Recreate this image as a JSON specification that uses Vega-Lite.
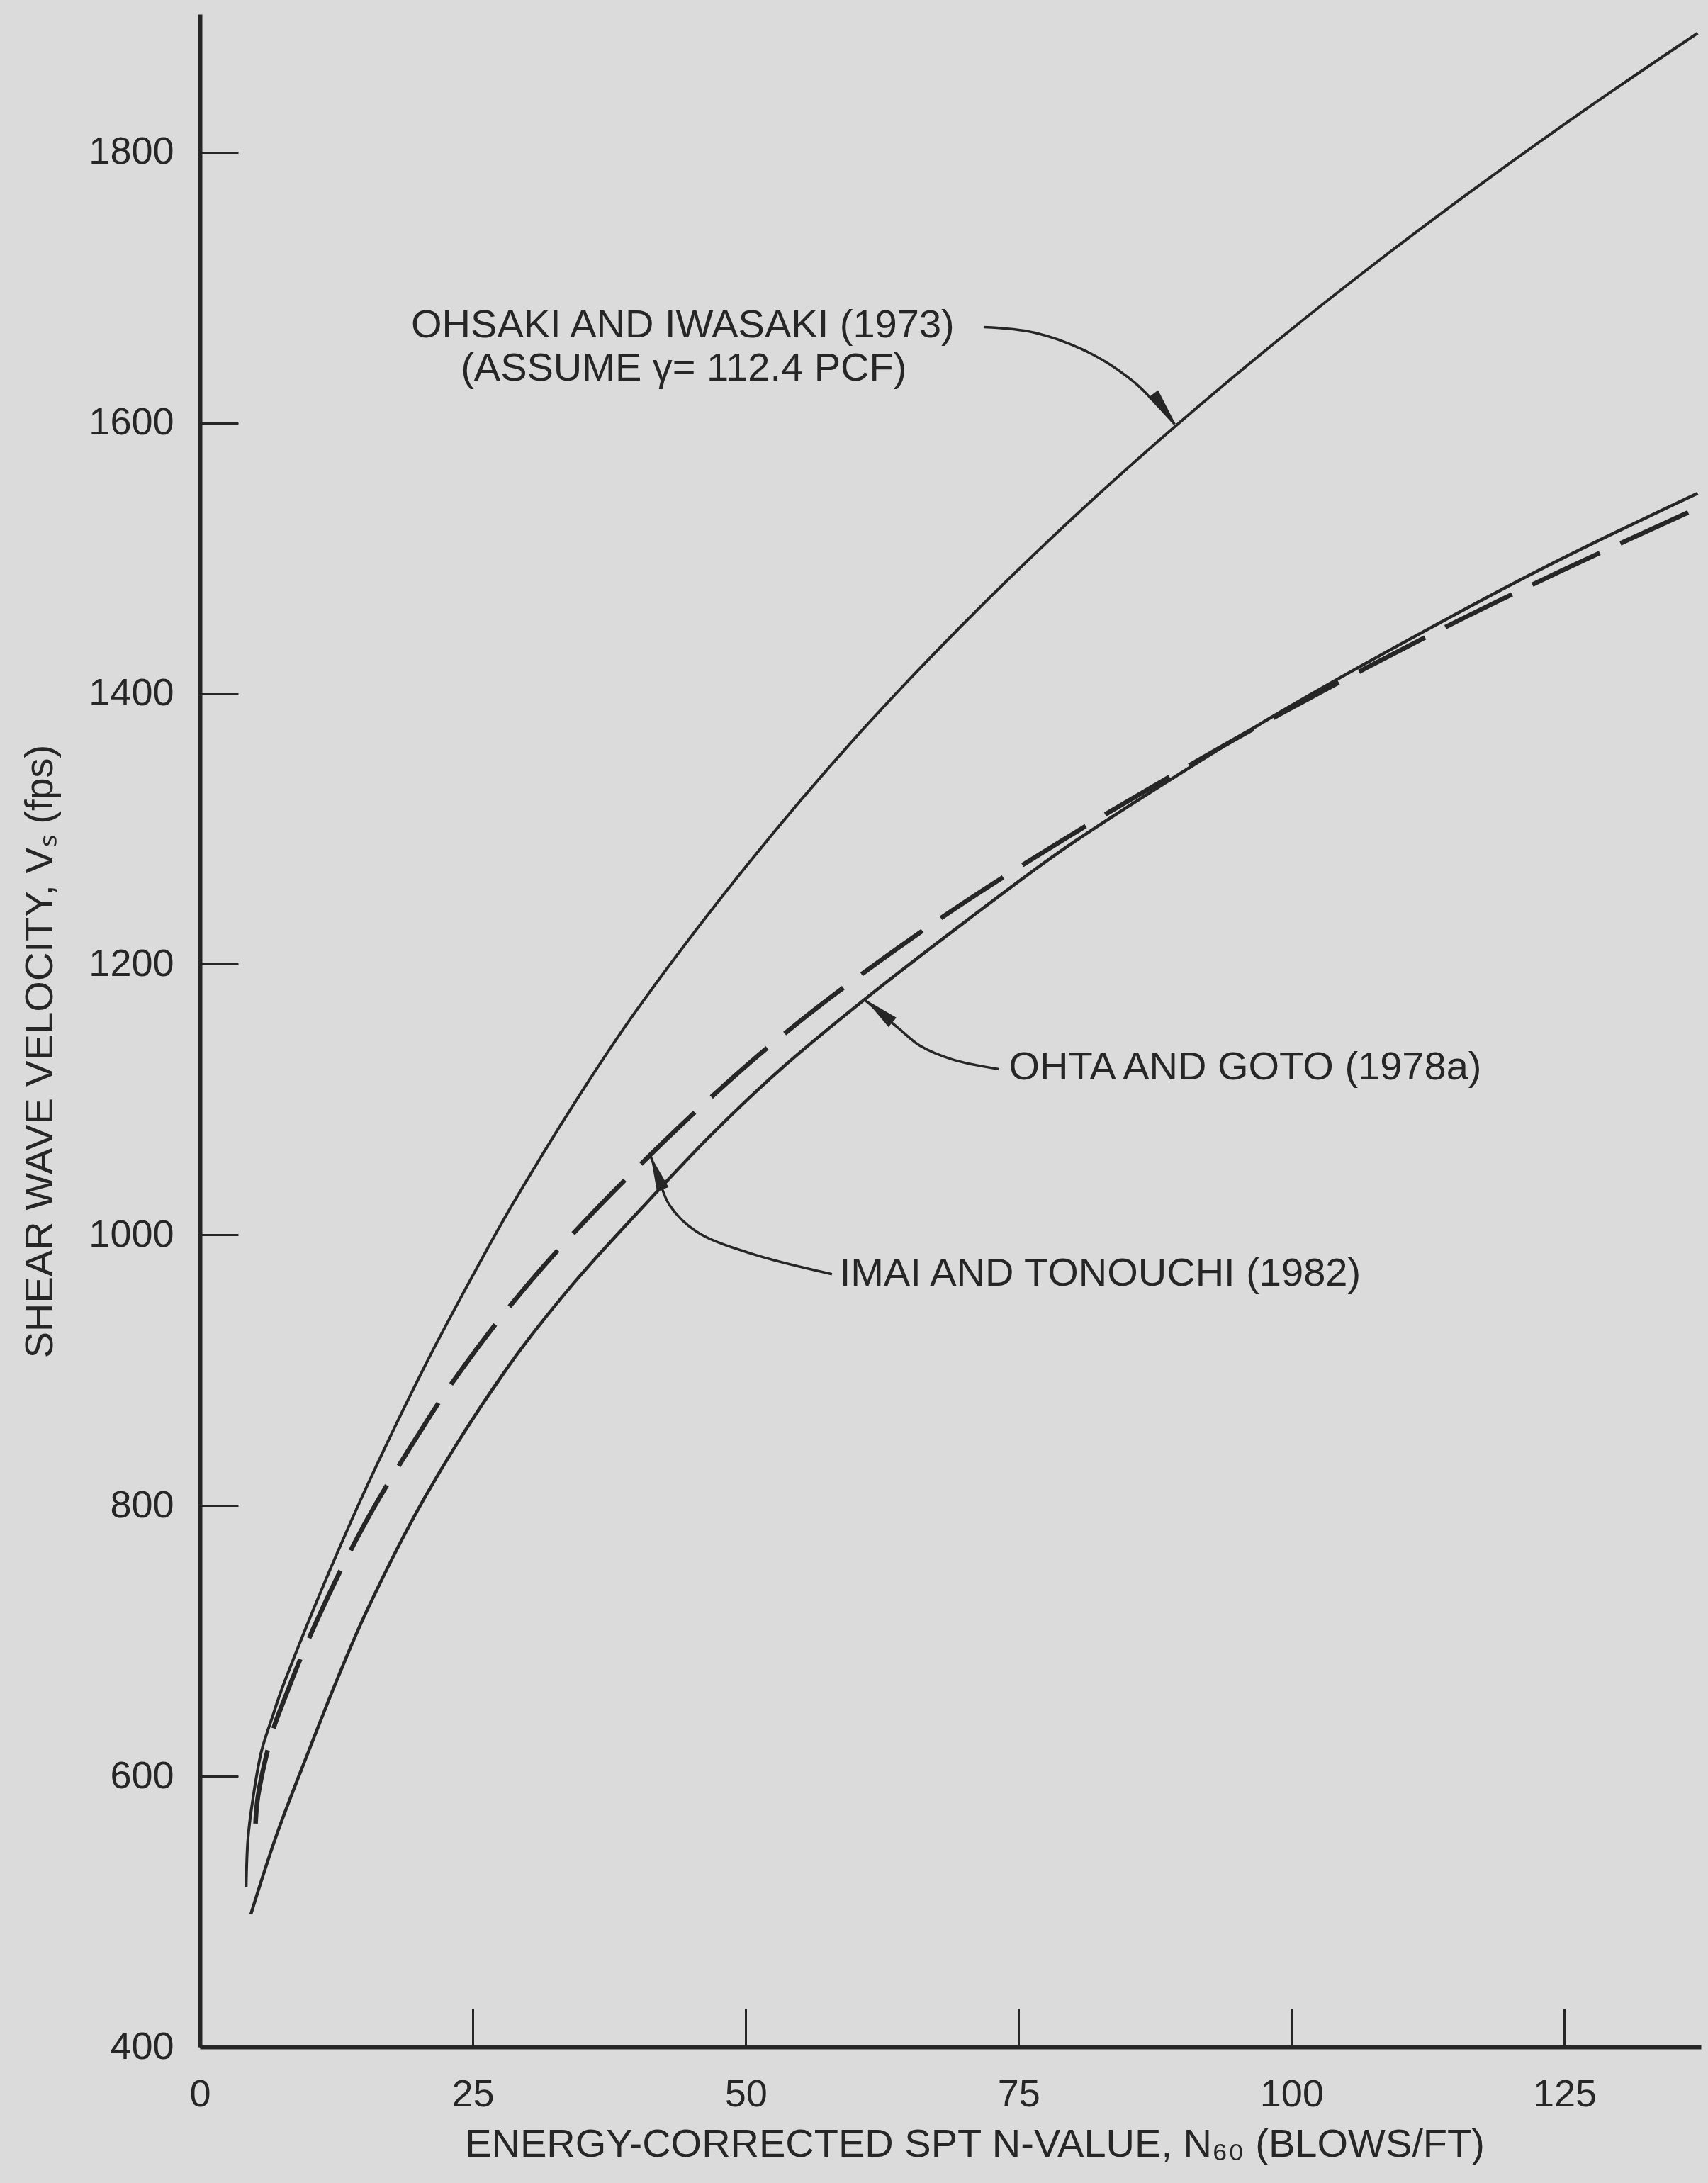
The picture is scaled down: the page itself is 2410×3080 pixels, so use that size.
{
  "$schema": "https://vega.github.io/schema/vega-lite/v6.json",
  "width": 2118,
  "height": 2868,
  "autosize": {"type": "none"},
  "padding": {"left": 282, "top": 20, "right": 10, "bottom": 192},
  "background": "#dbdbdb",
  "config": {"view": {"stroke": null}, "font": "Liberation Sans"},
  "datasets": {
    "ohsaki": [
      {"x": 4.24, "y": 518}, {"x": 4.41, "y": 554}, {"x": 4.91, "y": 586}, {"x": 5.66, "y": 619},
      {"x": 6.65, "y": 644}, {"x": 7.4, "y": 662}, {"x": 8.64, "y": 688}, {"x": 9.63, "y": 708},
      {"x": 12, "y": 754}, {"x": 15, "y": 809}, {"x": 20.6, "y": 903}, {"x": 25, "y": 970},
      {"x": 28.6, "y": 1022}, {"x": 35, "y": 1106}, {"x": 40, "y": 1166}, {"x": 50, "y": 1272},
      {"x": 60, "y": 1367}, {"x": 70, "y": 1452}, {"x": 80, "y": 1530}, {"x": 90, "y": 1602},
      {"x": 99.2, "y": 1664}, {"x": 108, "y": 1720}, {"x": 116.6, "y": 1772}, {"x": 127, "y": 1832},
      {"x": 137.2, "y": 1888}
    ],
    "imai": [
      {"x": 5.1, "y": 565}, {"x": 5.34, "y": 586}, {"x": 6.7, "y": 634}, {"x": 7.7, "y": 656},
      {"x": 10.44, "y": 710}, {"x": 15, "y": 785}, {"x": 20.6, "y": 860}, {"x": 23.75, "y": 898},
      {"x": 28.97, "y": 953}, {"x": 35.6, "y": 1013}, {"x": 46.6, "y": 1100}, {"x": 55.3, "y": 1160},
      {"x": 67.5, "y": 1232}, {"x": 79.1, "y": 1292}, {"x": 90, "y": 1344}, {"x": 99, "y": 1385},
      {"x": 112.6, "y": 1443}, {"x": 124.8, "y": 1491}, {"x": 137.2, "y": 1537}
    ],
    "ohta": [
      {"x": 4.67, "y": 498}, {"x": 7, "y": 556}, {"x": 9.94, "y": 618}, {"x": 12.5, "y": 670},
      {"x": 15.16, "y": 720}, {"x": 20.6, "y": 806}, {"x": 28.1, "y": 901}, {"x": 34, "y": 962},
      {"x": 40.5, "y": 1020}, {"x": 46.6, "y": 1072}, {"x": 53, "y": 1121}, {"x": 60.9, "y": 1174},
      {"x": 70.2, "y": 1232}, {"x": 79.1, "y": 1285}, {"x": 90, "y": 1342}, {"x": 99.1, "y": 1387},
      {"x": 112.6, "y": 1448}, {"x": 124.1, "y": 1497}, {"x": 137.2, "y": 1548}
    ],
    "leaderOhsaki": [
      {"x": 71.8, "y": 1670.8}, {"x": 76.5, "y": 1666.6}, {"x": 81.7, "y": 1650.9},
      {"x": 85.6, "y": 1630}, {"x": 87.6, "y": 1614}, {"x": 89.3, "y": 1599}
    ],
    "leaderOhta": [
      {"x": 73.2, "y": 1122.5}, {"x": 69.0, "y": 1129.5}, {"x": 66.0, "y": 1139.6},
      {"x": 64.0, "y": 1152.7}, {"x": 60.9, "y": 1173.7}
    ],
    "leaderImai": [
      {"x": 57.9, "y": 971}, {"x": 50.5, "y": 986.2}, {"x": 45.5, "y": 1002.4},
      {"x": 43.0, "y": 1022.3}, {"x": 41.9, "y": 1045}, {"x": 41.3, "y": 1058}
    ],
    "arrows": [
      {"x": 88.3, "y": 1611, "a": 143},
      {"x": 62.2, "y": 1165.5, "a": 310},
      {"x": 41.85, "y": 1046, "a": 340}
    ],
    "labels": [
      {"x": 19.35, "y": 1672, "t": "OHSAKI AND IWASAKI (1973)"},
      {"x": 23.9, "y": 1640, "t": "(ASSUME γ= 112.4 PCF)"},
      {"x": 74.1, "y": 1124, "t": "OHTA AND GOTO (1978a)"},
      {"x": 58.6, "y": 971.5, "t": "IMAI AND TONOUCHI (1982)"}
    ]
  },
  "encoding": {
    "x": {
      "field": "x", "type": "quantitative",
      "scale": {"domain": [0, 137.5], "nice": false, "zero": false},
      "axis": {
        "values": [0, 25, 50, 75, 100, 125],
        "format": "d",
        "grid": false,
        "title": "ENERGY-CORRECTED SPT N-VALUE, N₆₀ (BLOWS/FT)",
        "domainColor": "#262626", "domainWidth": 6,
        "tickColor": "#262626", "tickWidth": 3, "tickSize": -54,
        "labelPadding": 121, "labelBaseline": "middle",
        "labelFontSize": 54, "labelColor": "#262626", "labelFont": "Liberation Sans",
        "labelFlush": false, "labelOverlap": false,
        "titleFontSize": 56, "titleFontWeight": "normal", "titleColor": "#262626",
        "titleFont": "Liberation Sans",
        "titleX": 1093, "titleY": 137, "titleBaseline": "middle", "titleAlign": "center"
      }
    },
    "y": {
      "field": "y", "type": "quantitative",
      "scale": {"domain": [400, 1902], "nice": false, "zero": false},
      "axis": {
        "values": [400, 600, 800, 1000, 1200, 1400, 1600, 1800],
        "format": "d",
        "grid": false,
        "title": "SHEAR WAVE VELOCITY, Vₛ (fps)",
        "domainColor": "#262626", "domainWidth": 6,
        "tickColor": "#262626", "tickWidth": 3, "tickSize": -54,
        "labelPadding": 91,
        "labelFontSize": 54, "labelColor": "#262626", "labelFont": "Liberation Sans",
        "labelFlush": false, "labelOverlap": false,
        "titleFontSize": 56, "titleFontWeight": "normal", "titleColor": "#262626",
        "titleFont": "Liberation Sans",
        "titleX": -226, "titleY": 1463, "titleBaseline": "middle", "titleAlign": "center", "titleAngle": -90
      }
    }
  },
  "layer": [
    {"data": {"name": "ohsaki"}, "mark": {"type": "line", "interpolate": "catmull-rom", "color": "#262626", "strokeWidth": 4}},
    {"data": {"name": "ohta"}, "mark": {"type": "line", "interpolate": "catmull-rom", "color": "#262626", "strokeWidth": 4.5}},
    {"data": {"name": "imai"}, "mark": {"type": "line", "interpolate": "catmull-rom", "color": "#262626", "strokeWidth": 6.5, "strokeDash": [105, 32]}},
    {"data": {"name": "leaderOhsaki"}, "mark": {"type": "line", "interpolate": "catmull-rom", "color": "#262626", "strokeWidth": 3.5}},
    {"data": {"name": "leaderOhta"}, "mark": {"type": "line", "interpolate": "catmull-rom", "color": "#262626", "strokeWidth": 3.5}},
    {"data": {"name": "leaderImai"}, "mark": {"type": "line", "interpolate": "catmull-rom", "color": "#262626", "strokeWidth": 3.5}},
    {
      "data": {"name": "arrows"},
      "mark": {"type": "point", "shape": "M0,-1L0.35,1L-0.35,1Z", "filled": true, "size": 2500, "color": "#262626", "opacity": 1},
      "encoding": {"angle": {"field": "a", "type": "quantitative", "scale": null}}
    },
    {
      "data": {"name": "labels"},
      "mark": {"type": "text", "align": "left", "baseline": "middle", "fontSize": 56, "font": "Liberation Sans", "color": "#262626"},
      "encoding": {"text": {"field": "t", "type": "nominal"}}
    }
  ]
}
